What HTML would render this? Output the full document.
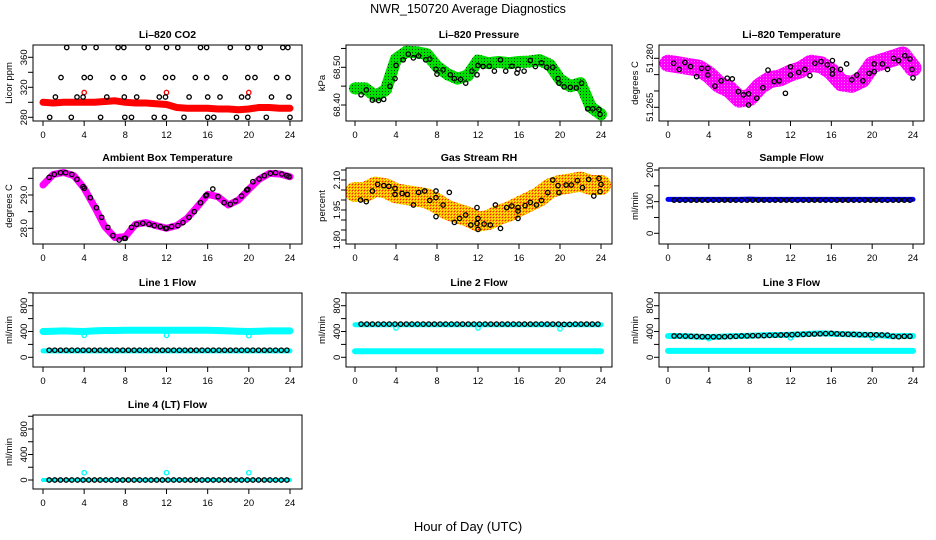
<!DOCTYPE html>
<html><head><meta charset="utf-8">
<style>
html,body{margin:0;padding:0;background:#fff;}
svg{display:block;font-family:"Liberation Sans",sans-serif;}
</style></head>
<body>
<svg id="chart" width="936" height="540" viewBox="0 0 936 540" xmlns="http://www.w3.org/2000/svg">
<defs>
<pattern id="patGreen" width="3" height="3" patternUnits="userSpaceOnUse"><rect width="3" height="3" fill="#00e000"/><rect x="1" y="1" width="1" height="1" fill="#004000"/></pattern>
<pattern id="patMag" width="3" height="3" patternUnits="userSpaceOnUse"><rect width="3" height="3" fill="#ff00ff"/><rect x="1" y="1" width="1" height="1" fill="#ff80ff"/></pattern>
<pattern id="patOrange" width="3" height="3" patternUnits="userSpaceOnUse"><rect width="3" height="3" fill="#ffa500"/><rect x="0" y="0" width="1" height="1" fill="#ffff00"/><rect x="1" y="1" width="1" height="1" fill="#ff2000"/><rect x="2" y="2" width="1" height="1" fill="#ffff00"/></pattern>
</defs>
<rect x="0" y="0" width="936" height="540" fill="#fff"/>
<text x="468" y="13" text-anchor="middle" font-size="12.5">NWR_150720  Average Diagnostics</text>
<text x="468" y="531" text-anchor="middle" font-size="13">Hour of Day (UTC)</text>
</svg>
<script>
// ---- data ----
const HOURS = [0,1,2,3,4,5,6,7,8,9,10,11,12,13,14,15,16,17,18,19,20,21,22,23,24];
const X_TICKS = [0,4,8,12,16,20,24];
const CIRC_H = [0.6,1.15,1.7,2.25,2.8,3.35,3.9,4.45,5.0,5.55,6.1,6.65,7.2,7.75,8.3,8.85,9.4,9.95,10.5,11.05,11.6,12.15,12.7,13.25,13.8,14.35,14.9,15.45,16.0,16.55,17.1,17.65,18.2,18.75,19.3,19.85,20.4,20.95,21.5,22.05,22.6,23.15,23.7];
const OUTLIER_H = [4,12,20];

// CO2
const CO2_BAND = [300,299,300,300,300,300,301,302,300,299,299,298,297,293,292,292,292,291,291,290,291,293,293,292,292];
const CO2_OUT = [313,313,313];
const CO2_BLK_H = [2.3,4.0,5.16,7.3,7.85,10.2,12.0,13.1,15.3,15.9,18.2,19.9,21.1,23.3,23.8, 1.75,4.0,4.6,6.8,7.9,9.7,11.9,12.6,14.8,15.9,17.7,19.9,20.6,22.7,23.8, 1.2,3.3,3.9,6.2,7.9,9.1,11.3,11.9,14.2,16.0,17.2,19.3,19.9,22.2,23.9, 0.65,2.75,5.6,7.95,8.6,10.8,11.8,13.7,16,16.6,18.8,19.9,21.7,24];
const CO2_BLK_V = [373,373,373,373,373,373,373,373,373,373,373,373,373,373,373, 333,333,333,333,333,333,333,333,333,333,333,333,333,333,333, 307,307,307,307,307,307,307,307,307,307,307,307,307,307,307, 280,280,280,280,280,280,280,280,280,280,280,280,280,280];

// Pressure
const PRES_BAND = [68.444,68.444,68.424,68.440,68.522,68.541,68.540,68.535,68.502,68.482,68.470,68.478,68.518,68.511,68.514,68.511,68.514,68.515,68.519,68.507,68.468,68.450,68.458,68.395,68.375];
const PRES_BLK_H = [0.6,1.1,1.7,2.3,2.8,3.4,3.9,4.0,4.7,5.2,5.7,6.2,6.9,7.3,7.9,8.0,8.6,9.3,9.7,10.3,10.8,11.4,11.9,12.0,12.5,13.1,13.6,14.2,14.7,15.3,15.8,15.9,16.5,17.1,17.6,18.2,18.7,19.3,19.8,19.9,20.4,21.0,21.6,22.1,22.7,23.2,23.8,23.9];
const PRES_BLK_V = [68.427,68.440,68.413,68.412,68.415,68.450,68.470,68.505,68.520,68.535,68.525,68.530,68.520,68.522,68.495,68.482,68.493,68.480,68.470,68.468,68.458,68.490,68.480,68.505,68.502,68.503,68.490,68.520,68.490,68.503,68.485,68.495,68.490,68.518,68.502,68.512,68.500,68.500,68.470,68.458,68.448,68.447,68.445,68.458,68.390,68.390,68.388,68.375];

// Li-820 temperature
const TEMP_BAND = [51.2785,51.278,51.2775,51.277,51.275,51.272,51.2705,51.2675,51.268,51.2715,51.2735,51.274,51.2755,51.2765,51.2785,51.278,51.276,51.2725,51.272,51.2735,51.278,51.279,51.280,51.281,51.277];
const TEMP_BLK_H = [0.56,1.1,1.66,2.2,2.8,3.3,3.9,3.9,4.6,5.2,5.8,6.3,6.9,7.4,7.9,7.9,8.7,9.3,9.8,10.4,10.9,11.5,12.0,12.0,12.8,13.4,13.9,14.4,15.0,15.6,16.1,16.1,16.1,16.9,17.5,18.0,18.5,19.1,19.7,20.2,20.2,21.0,21.5,22.1,22.6,23.2,23.7,23.9,24.0];
const TEMP_BLK_V = [51.2785,51.2766,51.2787,51.2775,51.2744,51.2769,51.2769,51.2749,51.2715,51.2731,51.2739,51.2737,51.2698,51.2688,51.2691,51.2657,51.2678,51.2710,51.2764,51.2729,51.2731,51.2693,51.2774,51.2749,51.2757,51.2766,51.2747,51.2785,51.2790,51.2780,51.2793,51.2766,51.2752,51.2766,51.2783,51.2734,51.2749,51.2731,51.2754,51.2783,51.2759,51.2783,51.2766,51.2800,51.2793,51.2808,51.2798,51.2766,51.2740];

// Ambient box temperature
const AMB_BAND = [29.30,29.62,29.68,29.58,29.20,28.65,28.05,27.72,27.75,28.12,28.17,28.08,28.00,28.08,28.30,28.65,29.02,28.95,28.70,28.85,29.17,29.47,29.65,29.63,29.55];
const AMB_BLK_H = [0.6,1.1,1.7,2.2,2.8,3.3,3.9,4.0,4.6,5.2,5.7,6.3,6.8,7.4,7.9,8.0,8.6,9.1,9.7,10.3,10.8,11.4,11.9,12.0,12.5,13.1,13.6,14.2,14.7,15.3,15.8,15.9,16.5,17.0,17.6,18.2,18.7,19.3,19.8,19.9,20.4,21.0,21.5,22.1,22.6,23.2,23.7,23.9];
const AMB_BLK_V = [29.53,29.62,29.67,29.67,29.62,29.47,29.25,29.20,28.92,28.62,28.33,28.03,27.78,27.65,27.70,27.70,28.03,28.12,28.15,28.12,28.08,28.05,28.00,28.00,28.05,28.08,28.17,28.33,28.50,28.77,28.98,29.00,29.18,28.95,28.77,28.72,28.82,28.97,29.15,29.17,29.40,29.48,29.58,29.65,29.67,29.63,29.58,29.55];

// Gas stream RH
const RH_BAND = [2.040,2.040,2.067,2.058,2.033,2.025,2.017,2.008,1.983,1.950,1.933,1.917,1.892,1.900,1.925,1.942,1.967,1.992,2.017,2.058,2.075,2.083,2.092,2.075,2.075];
const RH_BLK_H = [0.55,1.1,1.7,2.2,2.8,3.3,3.9,3.9,4.6,5.1,5.7,6.2,6.8,7.3,7.9,7.9,7.9,8.6,9.2,9.7,10.2,10.8,11.3,11.9,11.9,12.0,12.0,12.6,13.2,13.7,14.2,14.8,15.3,15.9,15.9,15.9,16.6,17.1,17.7,18.2,18.8,19.3,19.8,19.9,20.6,21.1,21.7,22.2,22.8,23.3,23.8,24.0,23.9];
const RH_BLK_V = [2.000,1.992,2.045,2.078,2.072,2.068,2.058,2.028,2.033,2.028,1.975,2.038,2.045,1.998,2.045,2.012,1.917,1.975,2.038,1.888,1.908,1.925,1.875,1.962,1.883,1.908,1.853,1.880,1.875,1.975,1.858,1.962,1.970,1.945,1.962,1.908,1.972,1.988,1.975,1.998,2.037,2.100,2.072,2.037,2.075,2.075,2.097,2.062,2.103,2.020,2.108,2.078,2.042];

// Sample flow
const SAMP_BLUE = [107,107,107,107,107,107,107,107,108,107,107,107,107,107,107,107,107,107,107,107,107,107,107,107,107];
const SAMP_BLK = [105,105,105,105,105,105,105,105,105,105,105,105,105,105,105,105,105,105,105,105,105,105,105,105,105,105,105,105,105,105,105,105,105,105,105,105,105,105,105,105,105,105,105];

// Line 1
const L1_UP = [400,405,410,405,400,410,415,415,420,420,420,420,420,420,420,420,420,415,410,405,400,405,410,410,410];
const L1_LOW = [100,100,100,100,100,100,100,100,100,100,100,100,100,100,100,100,100,100,100,100,100,100,100,100,100];
const L1_OUT = [340,340,335];
const L1_BLK = [110,110,110,110,110,110,110,110,110,110,110,110,110,110,110,110,110,110,110,110,110,110,110,110,110,110,110,110,110,110,110,110,110,110,110,110,110,110,110,110,110,110,110];

// Line 2
const L2_UP = [505,505,505,505,505,505,505,505,505,505,505,505,505,505,505,505,505,505,505,505,505,505,505,505,505];
const L2_LOW = [95,95,95,95,95,95,95,95,95,95,95,95,95,95,95,95,95,95,95,95,95,95,95,95,95];
const L2_OUT = [455,455,440];
const L2_BLK = [515,515,515,515,515,515,515,515,515,515,515,515,515,515,515,515,515,515,515,515,515,515,515,515,515,515,515,515,515,515,515,515,515,515,515,515,510,510,515,515,515,515,515];

// Line 3
const L3_UP = [330,330,325,320,315,320,325,330,335,340,345,345,350,355,365,370,365,360,355,350,345,340,325,330,330];
const L3_LOW = [100,100,100,100,100,100,100,100,100,100,100,100,100,100,100,100,100,100,100,100,100,100,100,100,100];
const L3_OUT = [290,300,300];
const L3_BLK = [330,330,328,325,322,320,320,318,318,320,322,325,330,332,335,335,337,340,342,345,348,350,355,355,358,362,365,368,370,365,360,358,355,352,350,350,348,346,344,325,320,325,325];

// Line 4
const L4_LINE = [0,0,0,0,0,0,0,0,0,0,0,0,0,0,0,0,0,0,0,0,0,0,0,0,0];
const L4_OUT = [115,115,115];
const L4_BLK = [0,0,0,0,0,0,0,0,0,0,0,0,0,0,0,0,0,0,0,0,0,0,0,0,0,0,0,0,0,0,0,0,0,0,0,0,0,0,0,0,0,0,0];

// ---- layout ----
const COLS = [{l:33,r:302,x0:43,x24:290},{l:346,r:612,x0:355,x24:601},{l:659,r:924,x0:668,x24:913}];
const ROWS = [{t:45,b:121},{t:168,b:244},{t:293,b:367},{t:415,b:489}];
const FLOW_TICKS=[0,200,400,600,800,1000], FLOW_LAB=[0,400,800];

const svg = document.getElementById('chart');
const NS = 'http://www.w3.org/2000/svg';
function mk(tag, attrs, parent){ const e=document.createElementNS(NS,tag); for(const k in attrs) e.setAttribute(k,attrs[k]); (parent||svg).appendChild(e); return e; }

function panel(opt){
  const c=COLS[opt.col], r=ROWS[opt.row];
  const g=mk('g',{});
  
  
  const xs=h=>c.x0+(c.x24-c.x0)*h/24;
  const [v1,p1,v2,p2]=opt.ya;
  const ys=v=>p1+(v-v1)*(p2-p1)/(v2-v1);
  const clip='clip'+opt.name;
  const cp=mk('clipPath',{id:clip},g); mk('rect',{x:c.l,y:r.t,width:c.r-c.l,height:r.b-r.t},cp);
  const data=mk('g',{'clip-path':'url(#'+clip+')'},g);
  (opt.bands||[]).forEach(b=>{
    const pts=b.h.map((h,i)=>xs(h).toFixed(1)+','+ys(b.v[i]).toFixed(1)).join(' ');
    const pl=mk('polyline',{points:pts,fill:'none',stroke:b.color,'stroke-width':b.w,'stroke-linecap':'round','stroke-linejoin':'round',opacity:b.op||1},data);
    
    
  });
  (opt.pts||[]).forEach(s=>{
    s.h.forEach((h,i)=>{
      const ci=mk('circle',{cx:xs(h).toFixed(1),cy:ys(s.v[i]).toFixed(1),r:s.r||2.2,fill:'none',stroke:s.color,'stroke-width':s.sw||1.3},data);
      
      
    });
  });
  const box=mk('rect',{x:c.l,y:r.t,width:c.r-c.l,height:r.b-r.t,fill:'none',stroke:'#000','stroke-width':1},g);
  
  
  const tt=mk('text',{x:(c.l+c.r)/2,y:r.t-7,'text-anchor':'middle','font-size':10.5,'font-weight':'bold'},g);
  tt.textContent=opt.title;
  
  
  X_TICKS.forEach(t=>{
    mk('line',{x1:xs(t),x2:xs(t),y1:r.b,y2:r.b+5,stroke:'#000'},g);
    const tx=mk('text',{x:xs(t),y:r.b+17,'text-anchor':'middle','font-size':9.5},g);
    tx.textContent=t;
    
    
  });
  opt.yt.forEach(t=>{ const y=ys(t); if(y<r.t-0.5||y>r.b+0.5) return; mk('line',{x1:c.l-5,x2:c.l,y1:y,y2:y,stroke:'#000'},g); });
  opt.yl.forEach((t,i)=>{
    const y=ys(t); const lab=opt.ylt?opt.ylt[i]:String(t);
    const ty=mk('text',{x:0,y:0,transform:`translate(${c.l-6},${y}) rotate(-90)`,'text-anchor':'middle','font-size':9.5},g);
    ty.textContent=lab;
    
    
  });
  const yl=mk('text',{x:0,y:0,transform:`translate(${c.l-21},${(r.t+r.b)/2}) rotate(-90)`,'text-anchor':'middle','font-size':9.5},g);
  yl.textContent=opt.ylab;
  
  
}

panel({name:'co2-panel',col:0,row:0,title:'Li\u2013820 CO2',ylab:'Licor ppm',ya:[280,117.3,360,57.3],
  yt:[280,300,320,340,360],yl:[280,320,360],
  bands:[{nm:'co2-band',h:HOURS,v:CO2_BAND,color:'#ff0000',w:7}],
  pts:[{nm:'co2-outlier',h:OUTLIER_H,v:CO2_OUT,color:'#ff0000'},{nm:'co2-hourly-point',h:CO2_BLK_H,v:CO2_BLK_V,color:'#000'}]});
panel({name:'pressure-panel',col:1,row:0,title:'Li\u2013820 Pressure',ylab:'kPa',ya:[68.40,105,68.50,67.3],
  yt:[68.40,68.45,68.50,68.55],yl:[68.40,68.50],ylt:['68.40','68.50'],
  bands:[{nm:'pressure-band',h:HOURS,v:PRES_BAND,color:'url(#patGreen)',w:12}],
  pts:[{nm:'pressure-hourly-point',h:PRES_BLK_H,v:PRES_BLK_V,color:'#000'}]});
panel({name:'temperature-panel',col:2,row:0,title:'Li\u2013820 Temperature',ylab:'degrees C',ya:[51.265,107.3,51.280,58.3],
  yt:[51.265,51.270,51.275,51.280],yl:[51.265,51.280],ylt:['51.265','51.280'],
  bands:[{nm:'temperature-band',h:HOURS,v:TEMP_BAND,color:'url(#patMag)',w:17}],
  pts:[{nm:'temperature-hourly-point',h:TEMP_BLK_H,v:TEMP_BLK_V,color:'#000'}]});
panel({name:'ambient-panel',col:0,row:1,title:'Ambient Box Temperature',ylab:'degrees C',ya:[28.0,228.3,29.0,195],
  yt:[28.0,28.5,29.0,29.5],yl:[28.0,29.0],ylt:['28.0','29.0'],
  bands:[{nm:'ambient-band',h:HOURS,v:AMB_BAND,color:'#ff00ff',w:7}],
  pts:[{nm:'ambient-hourly-point',h:AMB_BLK_H,v:AMB_BLK_V,color:'#000'}]});
panel({name:'rh-panel',col:1,row:1,title:'Gas Stream RH',ylab:'percent',ya:[1.80,240,2.10,180],
  yt:[1.80,1.85,1.90,1.95,2.00,2.05,2.10,2.15],yl:[1.80,1.95,2.10],ylt:['1.80','1.95','2.10'],
  bands:[{nm:'rh-band',h:HOURS,v:RH_BAND,color:'url(#patOrange)',w:20}],
  pts:[{nm:'rh-hourly-point',h:RH_BLK_H,v:RH_BLK_V,color:'#000'}]});
panel({name:'sample-flow-panel',col:2,row:1,title:'Sample Flow',ylab:'ml/min',ya:[0,233.3,200,170],
  yt:[0,50,100,150,200],yl:[0,100,200],
  bands:[{nm:'sample-flow-band',h:HOURS,v:SAMP_BLUE,color:'#0000ff',w:5}],
  pts:[{nm:'sample-flow-point',h:CIRC_H,v:SAMP_BLK,color:'#000'}]});
panel({name:'line1-panel',col:0,row:2,title:'Line 1 Flow',ylab:'ml/min',ya:[0,357.3,800,305.7],
  yt:FLOW_TICKS,yl:FLOW_LAB,
  bands:[{nm:'line1-upper-band',h:HOURS,v:L1_UP,color:'#00ffff',w:7},{nm:'line1-lower-band',h:HOURS,v:L1_LOW,color:'#00ffff',w:5}],
  pts:[{nm:'line1-outlier',h:OUTLIER_H,v:L1_OUT,color:'#00ffff'},{nm:'line1-point',h:CIRC_H,v:L1_BLK,color:'#000'}]});
panel({name:'line2-panel',col:1,row:2,title:'Line 2 Flow',ylab:'ml/min',ya:[0,357.3,800,305.7],
  yt:FLOW_TICKS,yl:FLOW_LAB,
  bands:[{nm:'line2-upper-band',h:HOURS,v:L2_UP,color:'#00ffff',w:5},{nm:'line2-lower-band',h:HOURS,v:L2_LOW,color:'#00ffff',w:6}],
  pts:[{nm:'line2-outlier',h:OUTLIER_H,v:L2_OUT,color:'#00ffff'},{nm:'line2-point',h:CIRC_H,v:L2_BLK,color:'#000'}]});
panel({name:'line3-panel',col:2,row:2,title:'Line 3 Flow',ylab:'ml/min',ya:[0,357.3,800,305.7],
  yt:FLOW_TICKS,yl:FLOW_LAB,
  bands:[{nm:'line3-upper-band',h:HOURS,v:L3_UP,color:'#00ffff',w:6},{nm:'line3-lower-band',h:HOURS,v:L3_LOW,color:'#00ffff',w:6}],
  pts:[{nm:'line3-outlier',h:OUTLIER_H,v:L3_OUT,color:'#00ffff'},{nm:'line3-point',h:CIRC_H,v:L3_BLK,color:'#000'}]});
panel({name:'line4-panel',col:0,row:3,title:'Line 4 (LT) Flow',ylab:'ml/min',ya:[0,480,800,429],
  yt:FLOW_TICKS,yl:FLOW_LAB,
  bands:[{nm:'line4-band',h:HOURS,v:L4_LINE,color:'#00ffff',w:4}],
  pts:[{nm:'line4-outlier',h:OUTLIER_H,v:L4_OUT,color:'#00ffff'},{nm:'line4-point',h:CIRC_H,v:L4_BLK,color:'#000'}]});
</script>
</body></html>
